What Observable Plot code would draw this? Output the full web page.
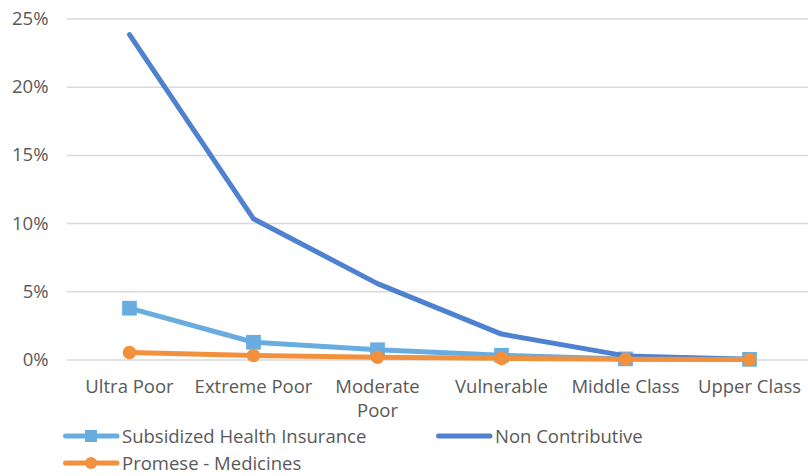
<!DOCTYPE html>
<html>
<head>
<meta charset="utf-8">
<script src="https://cdn.jsdelivr.net/npm/d3@7"></script>
<script src="https://cdn.jsdelivr.net/npm/@observablehq/plot@0.6"></script>
<style>
  html, body { margin: 0; padding: 0; background: #fff; }
  #wrap { position: relative; width: 808px; height: 476px; overflow: hidden; font-family: "Open Sans", Lato, sans-serif; color: #595959; }
  .leg { position: absolute; display: flex; align-items: center; height: 22px; line-height: 22px; font-size: 18.5px; color: #595959; white-space: nowrap; }
  .leg svg { margin-right: 2px; }
</style>
</head>
<body>
<div id="wrap"></div>
<script>
const categories = ["Ultra Poor", "Extreme Poor", "Moderate Poor", "Vulnerable", "Middle Class", "Upper Class"];
const tickLabels = ["Ultra Poor", "Extreme Poor", "Moderate\nPoor", "Vulnerable", "Middle Class", "Upper Class"];
const subsidized = [3.8, 1.3, 0.75, 0.35, 0.08, 0.05];
const nonContributive = [23.85, 10.35, 5.6, 1.9, 0.3, 0.05];
const promese = [0.55, 0.33, 0.2, 0.12, 0.05, 0.03];
const yTicks = [0, 5, 10, 15, 20, 25];

const seriesNames = ["Subsidized Health Insurance", "Non Contributive", "Promese - Medicines"];
const seriesColors = ["#69ADE0", "#4F81D1", "#F2913D"];

const rows = (vals, s) => categories.map((c, i) => ({cat: c, value: vals[i], series: s}));
const dSub = rows(subsidized, seriesNames[0]);
const dNon = rows(nonContributive, seriesNames[1]);
const dPro = rows(promese, seriesNames[2]);

const chart = Plot.plot({
  width: 808,
  height: 476,
  marginLeft: 67,
  marginRight: 0,
  marginTop: 18.5,
  marginBottom: 116.5,
  style: {fontFamily: "'Open Sans', Lato, sans-serif", fontSize: "18.5px", color: "#595959", background: "#fff"},
  x: {type: "point", domain: categories, range: [129, 749.5], padding: 0, label: null},
  y: {domain: [0, 25], label: null},
  marks: [
    Plot.ruleY(yTicks, {stroke: "#d9d9d9", strokeWidth: 1.5}),
    Plot.axisY({ticks: yTicks, tickSize: 0, tickPadding: 19, tickFormat: d => d + "%", fontSize: 18.5, fill: "#595959", label: null}),
    Plot.axisX({tickSize: 0, tickPadding: 17, tickFormat: d => tickLabels[categories.indexOf(d)], fontSize: 18.5, fill: "#595959", lineHeight: 1.25, label: null}),
    Plot.line(dSub, {x: "cat", y: "value", stroke: seriesColors[0], strokeWidth: 5}),
    Plot.dot(dSub, {x: "cat", y: "value", symbol: "square", r: 8.3, fill: seriesColors[0]}),
    Plot.line(dNon, {x: "cat", y: "value", stroke: seriesColors[1], strokeWidth: 5}),
    Plot.line(dPro, {x: "cat", y: "value", stroke: seriesColors[2], strokeWidth: 5}),
    Plot.dot(dPro, {x: "cat", y: "value", symbol: "circle", r: 6.8, fill: seriesColors[2]})
  ]
});
const wrap = document.getElementById("wrap");
wrap.appendChild(chart);
chart.style.position = "absolute";
chart.style.left = "0";
chart.style.top = "0";

function legendItem(name, color, marker, left, top) {
  const div = document.createElement("div");
  div.className = "leg";
  div.style.left = left + "px";
  div.style.top = top + "px";
  let m = "";
  if (marker === "square") m = `<rect x="22" y="5" width="12" height="12" fill="${color}"/>`;
  if (marker === "circle") m = `<circle cx="28" cy="11" r="6" fill="${color}"/>`;
  div.innerHTML = `<svg width="57" height="22"><line x1="2.5" y1="11" x2="54" y2="11" stroke="${color}" stroke-width="5" stroke-linecap="round"/>${m}</svg><span>${name}</span>`;
  wrap.appendChild(div);
}
legendItem(seriesNames[0], seriesColors[0], "square", 63, 425);
legendItem(seriesNames[1], seriesColors[1], null, 436, 425);
legendItem(seriesNames[2], seriesColors[2], "circle", 63, 452);
</script>
</body>
</html>
